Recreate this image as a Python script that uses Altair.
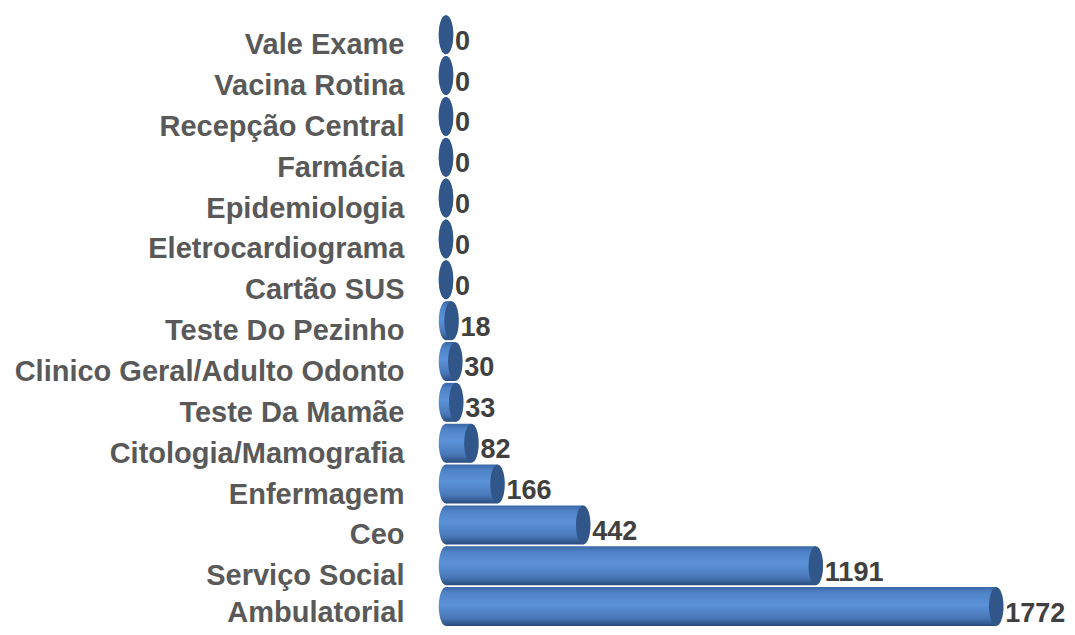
import altair as alt
import pandas as pd

categories = [
    "Vale Exame", "Vacina Rotina", "Recepção Central", "Farmácia",
    "Epidemiologia", "Eletrocardiograma", "Cartão SUS", "Teste Do Pezinho",
    "Clinico Geral/Adulto Odonto", "Teste Da Mamãe", "Citologia/Mamografia",
    "Enfermagem", "Ceo", "Serviço Social", "Ambulatorial",
]
values = [0, 0, 0, 0, 0, 0, 0, 18, 30, 33, 82, 166, 442, 1191, 1772]

df = pd.DataFrame({"cat": categories, "val": values, "zero": [0] * len(values)})

FONT = "Liberation Sans, Arial, sans-serif"
ELLIPSE = ("M0,-1 C0.2054,-1 0.372,-0.5523 0.372,0 C0.372,0.5523 0.2054,1 0,1 "
           "C-0.2054,1 -0.372,0.5523 -0.372,0 C-0.372,-0.5523 -0.2054,-1 0,-1 Z")

grad = alt.Gradient(
    gradient="linear", x1=0, x2=0, y1=0, y2=1,
    stops=[
        alt.GradientStop(color="#3a67a6", offset=0),
        alt.GradientStop(color="#4f83c7", offset=0.15),
        alt.GradientStop(color="#5b92d8", offset=0.45),
        alt.GradientStop(color="#4877b8", offset=0.8),
        alt.GradientStop(color="#2a4c7c", offset=1),
    ],
)

xs = alt.Scale(domain=[0, 1900], nice=False, zero=True)
ys = alt.Scale(domain=categories, paddingInner=0, paddingOuter=0)
yaxis = alt.Axis(
    title=None, domain=False, ticks=False, grid=False,
    labelFont=FONT, labelFontSize=29, labelFontWeight="bold",
    labelColor="#595959", labelPadding=42, labelBaseline="alphabetic",
    labelOffset={"condition": {"test": "datum.value === 'Ambulatorial'", "value": 15},
                 "value": 19.5},
    labelLimit=500,
)

base = alt.Chart(df).encode(y=alt.Y("cat:N", scale=ys, axis=yaxis, sort=categories))

left_cap = base.mark_point(shape=ELLIPSE, size=1521, filled=True, opacity=1,
                           fill=grad, strokeWidth=0).encode(
    x=alt.X("zero:Q", scale=xs, axis=None))
bars = base.mark_bar(size=39, color=grad).encode(
    x=alt.X("val:Q", scale=xs, axis=None))
end_cap = base.mark_point(shape=ELLIPSE, size=1521, filled=True, opacity=1,
                          fill="#30568a", strokeWidth=0).encode(
    x=alt.X("val:Q", scale=xs, axis=None))
labels = base.mark_text(align="left", baseline="middle", dx=9, dy=7,
                        font=FONT, fontSize=27, fontWeight="bold",
                        color="#404040").encode(
    x=alt.X("val:Q", scale=xs, axis=None), text="val:Q")

chart = alt.layer(left_cap, bars, end_cap, labels).properties(
    width=590, height=612.75,
    autosize=alt.AutoSizeParams(type="none"),
    padding={"left": 438, "top": 6.25, "right": 31, "bottom": 0},
).configure_view(stroke=None)

chart.save("out.html", embed_options={"renderer": "svg", "actions": False})
